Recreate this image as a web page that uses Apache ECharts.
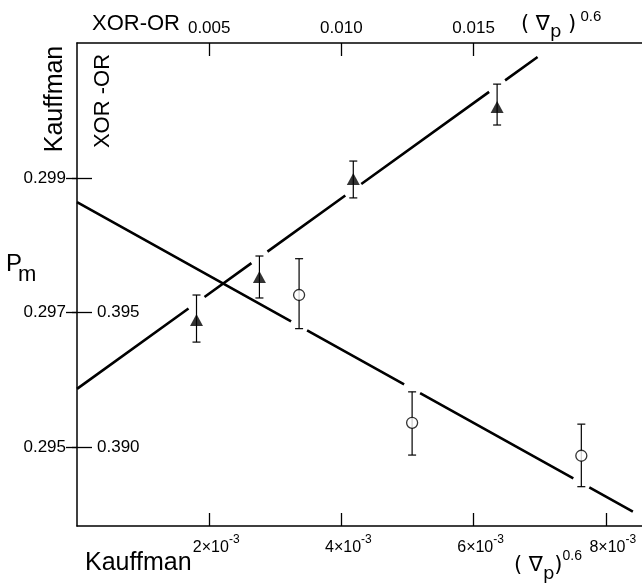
<!DOCTYPE html>
<html><head><meta charset="utf-8">
<script src="https://cdn.jsdelivr.net/npm/echarts@6/dist/echarts.min.js"></script>
<style>html,body{margin:0;padding:0;background:#fff}#c{width:642px;height:583px}</style>
</head><body><div id="c"></div>
<script>
// ---- Kauffman (open circles): bottom x axis, outer left y axis ----
const kauffX  = [0.00336, 0.00507, 0.00763];
const kauffY  = [0.29726, 0.29536, 0.29487];
const kauffLo = [0.29676, 0.29488, 0.29441];
const kauffHi = [0.29780, 0.29582, 0.29534];
const kauffFit = [0.29864, -0.547];      // intercept, slope
const kauffFitRange = [0, 0.00841];

// ---- XOR-OR (filled triangles): top x axis, inner left y axis ----
const xorX  = [0.00452, 0.00690, 0.01045, 0.01589];
const xorY  = [0.39472, 0.39632, 0.39996, 0.40264];
const xorLo = [0.39390, 0.39554, 0.39926, 0.40197];
const xorHi = [0.39565, 0.39710, 0.40063, 0.40349];
const xorFit = [0.39216, 0.7084];
const xorFitRange = [0, 0.01742];

// ---- ticks ----
const bottomTicks = [0.002, 0.004, 0.006, 0.008];
const bottomTickLabels = ['2×10', '4×10', '6×10', '8×10'];
const bottomTickExp = '-3';
const topTicks = [0.005, 0.010, 0.015];
const topTickLabels = ['0.005', '0.010', '0.015'];
const outerYTicks = [0.295, 0.297, 0.299];
const outerYLabels = ['0.295', '0.297', '0.299'];
const innerYTicks = [0.390, 0.395, 0.400];
const innerYLabels = ['0.390', '0.395', ''];

// ---- axis ranges ----
const X1 = [0, 0.008548];
const X2 = [0, 0.021370];
const Y1 = [0.2938253, 0.3010075];
const Y2 = [0.3870632, 0.4050188];

const GRID = {left: 77, top: 43, right: 0, bottom: 57};
const GW = 642 - GRID.left - GRID.right;
const GAP_PX = 8;
const FONT = "'Liberation Sans', Arial, sans-serif";

function labelOf(vals, labels) {
  return v => { const i = vals.findIndex(t => Math.abs(t - v) < 1e-9); return i < 0 ? '' : labels[i]; };
}

function fitLine(fit, range, gaps, gapHalf) {
  const f = x => fit[0] + fit[1] * x;
  const data = []; let s = range[0];
  gaps.slice().sort((a, b) => a - b).forEach(g => {
    data.push([s, f(s)], [g - gapHalf, f(g - gapHalf)], [g, '-']);
    s = g + gapHalf;
  });
  data.push([s, f(s)], [range[1], f(range[1])]);
  return data;
}

function errSeries(xs, lo, hi, xi, yi) {
  return {
    type: 'custom', xAxisIndex: xi, yAxisIndex: yi, silent: true, z: 3,
    data: xs.map((x, i) => [x, lo[i], hi[i]]),
    renderItem(params, api) {
      const a = api.coord([api.value(0), api.value(1)]);
      const b = api.coord([api.value(0), api.value(2)]);
      const w = 4, st = {stroke: '#000', lineWidth: 1.2};
      return {type: 'group', children: [
        {type: 'line', shape: {x1: a[0], y1: a[1], x2: b[0], y2: b[1]}, style: st},
        {type: 'line', shape: {x1: a[0] - w, y1: a[1], x2: a[0] + w, y2: a[1]}, style: st},
        {type: 'line', shape: {x1: b[0] - w, y1: b[1], x2: b[0] + w, y2: b[1]}, style: st}
      ]};
    }
  };
}

const axLine = {show: true, onZero: false, lineStyle: {color: '#000', width: 1.5}};
const tickStyle = {color: '#000', width: 1.3};

const chart = echarts.init(document.getElementById('c'), null, {renderer: 'canvas'});
chart.setOption({
  animation: false,
  backgroundColor: '#fff',
  grid: Object.assign({outerBoundsMode: 'none', containLabel: false}, GRID),
  xAxis: [
    {type: 'value', position: 'bottom', min: X1[0], max: X1[1],
     axisLine: axLine, splitLine: {show: false},
     axisTick: {show: true, inside: true, length: 13, customValues: bottomTicks, lineStyle: tickStyle},
     axisLabel: {customValues: bottomTicks, margin: 8, padding: [0, 0, 0, 14],
       formatter: v => { const l = labelOf(bottomTicks, bottomTickLabels)(v); return l ? '{m|' + l + '}{s|' + bottomTickExp + '}' : ''; },
       rich: {m: {fontSize: 16, fontFamily: FONT, color: '#000', lineHeight: 22, verticalAlign: 'bottom'},
              s: {fontSize: 12, fontFamily: FONT, color: '#000', lineHeight: 22, verticalAlign: 'top'}}}},
    {type: 'value', position: 'top', min: X2[0], max: X2[1],
     axisLine: axLine, splitLine: {show: false},
     axisTick: {show: true, inside: true, length: 13, customValues: topTicks, lineStyle: tickStyle},
     axisLabel: {customValues: topTicks, margin: 6, fontSize: 17, fontFamily: FONT, color: '#000',
       formatter: labelOf(topTicks, topTickLabels)}}
  ],
  yAxis: [
    {type: 'value', position: 'left', offset: 0, min: Y1[0], max: Y1[1],
     axisLine: axLine, splitLine: {show: false},
     axisTick: {show: true, inside: false, length: 5, customValues: outerYTicks, lineStyle: tickStyle},
     axisLabel: {customValues: outerYTicks, margin: 11, fontSize: 17, fontFamily: FONT, color: '#000',
       formatter: labelOf(outerYTicks, outerYLabels)}},
    {type: 'value', position: 'left', offset: 0, min: Y2[0], max: Y2[1],
     axisLine: {show: false}, splitLine: {show: false},
     axisTick: {show: true, inside: true, length: 15, customValues: innerYTicks, lineStyle: tickStyle},
     axisLabel: {customValues: innerYTicks, inside: true, margin: 20, fontSize: 17, fontFamily: FONT, color: '#000',
       formatter: labelOf(innerYTicks, innerYLabels)}},
    {type: 'value', position: 'right', offset: 0, min: Y1[0], max: Y1[1],
     axisLine: {show: false}, splitLine: {show: false},
     axisTick: {show: true, inside: true, length: 11, customValues: outerYTicks, lineStyle: tickStyle},
     axisLabel: {show: false}}
  ],
  series: [
    {type: 'line', xAxisIndex: 0, yAxisIndex: 0, symbol: 'none', connectNulls: false, z: 2,
     lineStyle: {color: '#000', width: 2.6},
     data: fitLine(kauffFit, kauffFitRange, kauffX, GAP_PX * (X1[1] - X1[0]) / GW)},
    {type: 'line', xAxisIndex: 1, yAxisIndex: 1, symbol: 'none', connectNulls: false, z: 2,
     lineStyle: {color: '#000', width: 2.6},
     data: fitLine(xorFit, xorFitRange, xorX, GAP_PX * (X2[1] - X2[0]) / GW)},
    errSeries(kauffX, kauffLo, kauffHi, 0, 0),
    errSeries(xorX, xorLo, xorHi, 1, 1),
    {type: 'scatter', xAxisIndex: 0, yAxisIndex: 0, symbol: 'circle', symbolSize: 11, z: 5,
     itemStyle: {color: '#fff', borderColor: '#000', borderWidth: 1.3},
     data: kauffX.map((x, i) => [x, kauffY[i]])},
    {type: 'scatter', xAxisIndex: 1, yAxisIndex: 1, symbol: 'triangle', symbolSize: [13, 12], z: 5,
     itemStyle: {color: '#000'},
     data: xorX.map((x, i) => [x, xorY[i]])}
  ],
  graphic: [
    {type: 'text', x: 92, y: 24, style: {text: 'XOR-OR', fontSize: 22, fontFamily: FONT, fill: '#000', textVerticalAlign: 'middle'}},
    {type: 'text', x: 55, y: 99, rotation: Math.PI / 2, style: {text: 'Kauffman', fontSize: 25, fontFamily: FONT, fill: '#000', textAlign: 'center', textVerticalAlign: 'middle'}},
    {type: 'text', x: 103, y: 101, rotation: Math.PI / 2, style: {text: 'XOR -OR', fontSize: 22, fontFamily: FONT, fill: '#000', textAlign: 'center', textVerticalAlign: 'middle'}},
    {type: 'text', x: 85, y: 563, style: {text: 'Kauffman', fontSize: 25, fontFamily: FONT, fill: '#000', textVerticalAlign: 'middle'}},
    {type: 'text', x: 6, y: 264, style: {text: 'P', fontSize: 24, fontFamily: FONT, fill: '#000', textVerticalAlign: 'middle'}},
    {type: 'text', x: 18, y: 275, style: {text: 'm', fontSize: 22, fontFamily: FONT, fill: '#000', textVerticalAlign: 'middle'}},
    {type: 'text', x: 521, y: 25, style: {text: '{a|( ∇}{b|p}{a| )}{c| 0.6}', textVerticalAlign: 'middle',
      rich: {a: {fontSize: 21, fontFamily: 'DejaVu Sans', fill: '#000', lineHeight: 38, verticalAlign: 'middle'},
             b: {fontSize: 18, fontFamily: 'DejaVu Sans', fill: '#000', lineHeight: 38, verticalAlign: 'bottom', padding: [0, 0, 3, 0]},
             c: {fontSize: 15, fontFamily: FONT, fill: '#000', lineHeight: 38, verticalAlign: 'top', padding: [3, 0, 0, 0]}}}},
    {type: 'text', x: 514, y: 566, style: {text: '{a|( ∇}{b|p}{a|)}{c|0.6}', textVerticalAlign: 'middle',
      rich: {a: {fontSize: 21, fontFamily: 'DejaVu Sans', fill: '#000', lineHeight: 34, verticalAlign: 'middle'},
             b: {fontSize: 18, fontFamily: 'DejaVu Sans', fill: '#000', lineHeight: 34, verticalAlign: 'bottom'},
             c: {fontSize: 14, fontFamily: FONT, fill: '#000', lineHeight: 34, verticalAlign: 'top'}}}}
  ]
});
</script></body></html>
